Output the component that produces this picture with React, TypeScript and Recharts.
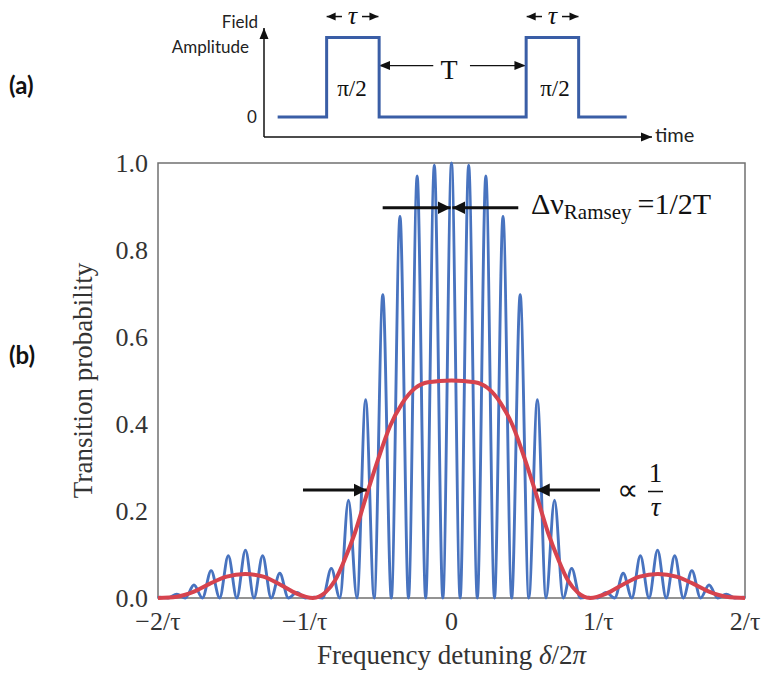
import React from 'react';
import { LineChart, Line, XAxis, YAxis, ReferenceLine, ReferenceArea } from 'recharts';

const serif = '"Liberation Serif", "Times New Roman", serif';
const sans = 'Lato, "Open Sans", sans-serif';

// (b) Ramsey fringes, detuning in units of 1/tau
const fringeX = [
  -2.0, -1.989, -1.931, -1.872, -1.814, -1.755, -1.697, -1.638, -1.58, -1.521, -1.463, -1.404,
  -1.346, -1.287, -1.229, -1.17, -1.112, -1.053, -0.995, -0.936, -0.878, -0.819, -0.761, -0.702,
  -0.644, -0.585, -0.527, -0.468, -0.41, -0.351, -0.293, -0.234, -0.176, -0.117, -0.059,
  0,
  0.059, 0.117, 0.176, 0.234, 0.293, 0.351, 0.41, 0.468, 0.527, 0.585, 0.644, 0.702,
  0.761, 0.819, 0.878, 0.936, 0.995, 1.053, 1.112, 1.17, 1.229, 1.287, 1.346, 1.404,
  1.463, 1.521, 1.58, 1.638, 1.697, 1.755, 1.814, 1.872, 1.931, 1.989, 2.0,
];
const fringeP = [
  0, 0.002, 0, 0.009, 0, 0.03, 0, 0.063, 0, 0.097, 0, 0.11,
  0, 0.097, 0, 0.057, 0, 0.013, 0, 0.002, 0, 0.068, 0, 0.225,
  0, 0.456, 0, 0.697, 0, 0.877, 0, 0.97, 0, 0.995, 0,
  1.0,
  0, 0.995, 0, 0.97, 0, 0.877, 0, 0.697, 0, 0.456, 0, 0.225,
  0, 0.068, 0, 0.002, 0, 0.013, 0, 0.057, 0, 0.097, 0, 0.11,
  0, 0.097, 0, 0.063, 0, 0.03, 0, 0.009, 0, 0.002, 0,
];

// averaged (envelope) curve
const envX = [
  -2.0, -1.873, -1.759, -1.646, -1.532, -1.407, -1.282, -1.169, -1.055, -0.944, -0.862,
  -0.794, -0.726, -0.658, -0.583, -0.501, -0.419, -0.337, -0.249, -0.16,
  0,
  0.16, 0.249, 0.337, 0.419, 0.501, 0.583, 0.658, 0.726, 0.794,
  0.862, 0.944, 1.055, 1.169, 1.282, 1.407, 1.532, 1.646, 1.759, 1.873, 2.0,
];
const envP = [
  0, 0.003, 0.014, 0.033, 0.049, 0.055, 0.049, 0.031, 0.01, 0, 0.012,
  0.04, 0.09, 0.15, 0.232, 0.318, 0.395, 0.447, 0.482, 0.496,
  0.5,
  0.496, 0.482, 0.447, 0.395, 0.318, 0.232, 0.15, 0.09, 0.04,
  0.012, 0, 0.01, 0.031, 0.049, 0.055, 0.049, 0.033, 0.014, 0.003, 0,
];

const xTicks = [-2, -1, 0, 1, 2];
const xTickLabels = ['−2/τ', '−1/τ', '0', '1/τ', '2/τ'];
const yTicks = [0, 0.2, 0.4, 0.6, 0.8, 1.0];

// (a) pulse sequence: time in units of tau
const pulseT = [0, 0.933, 1.933, 4.733, 5.733, 6.648];
const pulseA = [0, 1, 0, 1, 0, 0];

const fringeData = fringeX.map((x, i) => ({ x, p: fringeP[i] }));
const envData = envX.map((x, i) => ({ x, p: envP[i] }));
const pulseData = pulseT.map((t, i) => ({ t, a: pulseA[i] }));

const arrow = (id: string, w: number) => (p: any) => (
  <line x1={p.x1} y1={p.y1} x2={p.x2} y2={p.y2} stroke="#111" strokeWidth={w} markerEnd={`url(#${id})`} />
);

const xTitle = (props: any) => {
  const vb = props.viewBox;
  return (
    <text x={vb.x + vb.width / 2} y={vb.y + 66} textAnchor="middle" fontFamily={serif} fontSize={27} fill="#333">
      Frequency detuning <tspan fontStyle="italic">δ</tspan>/2<tspan fontStyle="italic">π</tspan>
    </text>
  );
};

function PulseChart() {
  return (
    <LineChart width={769} height={150} margin={{ top: 28, right: 117, bottom: 13, left: 264 }}>
      <XAxis type="number" dataKey="t" domain={[-0.26, 7.13]} hide />
      <YAxis type="number" domain={[-0.25, 1.12]} hide />
      <ReferenceLine segment={[{ x: -0.26, y: -0.25 }, { x: -0.26, y: 1.12 }]} shape={arrow('headA', 1.5)} />
      <ReferenceLine segment={[{ x: -0.26, y: -0.25 }, { x: 7.13, y: -0.25 }]} shape={arrow('headA', 1.5)} />
      <ReferenceLine segment={[{ x: 2.964, y: 0.648 }, { x: 1.93, y: 0.648 }]} shape={arrow('headA', 1.3)} />
      <ReferenceLine segment={[{ x: 3.663, y: 0.648 }, { x: 4.72, y: 0.648 }]} shape={arrow('headA', 1.3)} />
      <ReferenceLine ifOverflow="visible" segment={[{ x: 1.225, y: 1.264 }, { x: 0.933, y: 1.264 }]} shape={arrow('headS', 1.5)} />
      <ReferenceLine ifOverflow="visible" segment={[{ x: 1.606, y: 1.264 }, { x: 1.92, y: 1.264 }]} shape={arrow('headS', 1.5)} />
      <ReferenceLine ifOverflow="visible" segment={[{ x: 5.035, y: 1.264 }, { x: 4.743, y: 1.264 }]} shape={arrow('headS', 1.5)} />
      <ReferenceLine ifOverflow="visible" segment={[{ x: 5.416, y: 1.264 }, { x: 5.73, y: 1.264 }]} shape={arrow('headS', 1.5)} />
      <Line data={pulseData} dataKey="a" type="stepAfter" stroke="#3A5EA6" strokeWidth={3} dot={false} isAnimationActive={false} />
    </LineChart>
  );
}

function RamseyChart() {
  const tickStyle = { fontSize: 26, fontFamily: serif, fill: '#333' };
  return (
    <LineChart width={769} height={677} margin={{ top: 163, right: 24, bottom: 0, left: 6 }}>
      <XAxis
        type="number"
        dataKey="x"
        domain={[-2, 2]}
        ticks={xTicks}
        interval={0}
        tickFormatter={(v: number) => xTickLabels[xTicks.indexOf(v)] ?? ''}
        height={79}
        axisLine={false}
        tickLine={false}
        tickSize={6}
        tickMargin={8}
        tick={tickStyle}
        label={xTitle}
      />
      <YAxis
        type="number"
        domain={[0, 1]}
        ticks={yTicks}
        interval={0}
        tickFormatter={(v: number) => v.toFixed(1)}
        width={152}
        axisLine={false}
        tickLine={false}
        tickSize={6}
        tickMargin={4}
        tick={tickStyle}
        label={{ value: 'Transition probability', angle: -90, position: 'center', fontSize: 27, fontFamily: serif, fill: '#333' }}
      />
      <ReferenceArea x1={-2} x2={2} y1={0} y2={1} fill="none" stroke="#707070" strokeWidth={1.5} />
      <Line data={fringeData} dataKey="p" type="monotone" stroke="#4873BF" strokeWidth={2.9} dot={false} isAnimationActive={false} />
      <Line data={envData} dataKey="p" type="monotone" stroke="#D6434E" strokeWidth={4} dot={false} isAnimationActive={false} />
      <ReferenceLine segment={[{ x: -0.469, y: 0.897 }, { x: -0.006, y: 0.897 }]} shape={arrow('headB', 3)} />
      <ReferenceLine segment={[{ x: 0.455, y: 0.897 }, { x: 0.006, y: 0.897 }]} shape={arrow('headB', 3)} />
      <ReferenceLine segment={[{ x: -1.012, y: 0.248 }, { x: -0.578, y: 0.248 }]} shape={arrow('headB', 3)} />
      <ReferenceLine segment={[{ x: 1.012, y: 0.248 }, { x: 0.581, y: 0.248 }]} shape={arrow('headB', 3)} />
    </LineChart>
  );
}

export default function App() {
  return (
    <div style={{ position: 'absolute', left: 0, top: 0, width: 769, height: 677, background: '#fff', overflow: 'hidden' }}>
      <svg width={0} height={0} style={{ position: 'absolute' }}>
        <defs>
          <marker id="headB" markerUnits="userSpaceOnUse" markerWidth={14} markerHeight={14} refX={13} refY={7} orient="auto">
            <path d="M0,0.5 L13,7 L0,13.5 Z" fill="#111" />
          </marker>
          <marker id="headA" markerUnits="userSpaceOnUse" markerWidth={11} markerHeight={10} refX={11} refY={5} orient="auto">
            <path d="M0,0.5 L11,5 L0,9.5 Z" fill="#111" />
          </marker>
          <marker id="headS" markerUnits="userSpaceOnUse" markerWidth={9} markerHeight={9} refX={9} refY={4.5} orient="auto">
            <path d="M0,0.5 L9,4.5 L0,8.5 Z" fill="#111" />
          </marker>
        </defs>
      </svg>
      <div style={{ position: 'absolute', left: 0, top: 0 }}>
        <PulseChart />
      </div>
      <div style={{ position: 'absolute', left: 0, top: 0 }}>
        <RamseyChart />
      </div>
      <svg width={769} height={677} style={{ position: 'absolute', left: 0, top: 0, pointerEvents: 'none' }}>
        <text x={9} y={94} fontFamily={sans} fontWeight={700} fontSize={24} fill="#111">(a)</text>
        <text x={9} y={364} fontFamily={sans} fontWeight={700} fontSize={24} fill="#111">(b)</text>
        <text x={258} y={28} textAnchor="end" fontFamily={sans} fontSize={17} fill="#222">Field</text>
        <text x={249} y={53} textAnchor="end" fontFamily={sans} fontSize={17} fill="#222">Amplitude</text>
        <text x={252} y={123} textAnchor="middle" fontFamily={sans} fontSize={17} fill="#222">0</text>
        <text x={655} y={142} fontFamily={sans} fontSize={20} fill="#222">time</text>
        <text x={352.5} y={24} textAnchor="middle" fontFamily={serif} fontStyle="italic" fontSize={26} fill="#111">τ</text>
        <text x={552.5} y={24} textAnchor="middle" fontFamily={serif} fontStyle="italic" fontSize={26} fill="#111">τ</text>
        <text x={352} y={96} textAnchor="middle" fontFamily={serif} fontSize={23} fill="#111">π/2</text>
        <text x={555} y={96} textAnchor="middle" fontFamily={serif} fontSize={23} fill="#111">π/2</text>
        <text x={449} y={79} textAnchor="middle" fontFamily={serif} fontSize={28} fill="#111">T</text>
        <text x={531} y={214} fontFamily={serif} fontSize={30} fill="#111">
          Δν<tspan fontSize={21} dy={5}>Ramsey</tspan><tspan dx={6} dy={-5}>=1/2T</tspan>
        </text>
        <text x={617} y={500} fontFamily={serif} fontSize={30} fill="#111">∝</text>
        <text x={655.5} y={482} textAnchor="middle" fontFamily={serif} fontSize={27} fill="#111">1</text>
        <line x1={648} y1={491.5} x2={663} y2={491.5} stroke="#111" strokeWidth={1.5} />
        <text x={655.5} y={516} textAnchor="middle" fontFamily={serif} fontStyle="italic" fontSize={27} fill="#111">τ</text>
      </svg>
    </div>
  );
}
